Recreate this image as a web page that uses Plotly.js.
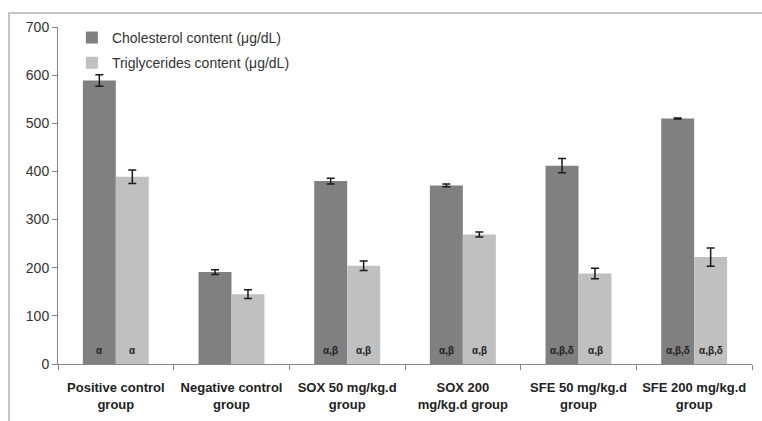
<!DOCTYPE html>
<html>
<head>
<meta charset="utf-8">
<script src="https://cdn.plot.ly/plotly-3.0.1.min.js"></script>
<style>
  html, body { margin: 0; padding: 0; background: #fff; }
  #chart { width: 762px; height: 421px; position: absolute; left: 0; top: 0; }
  #frame { position: absolute; left: 8px; top: 12px; width: 760px; height: 420px;
           border-left: 2px solid #c4c4c4; border-top: 2px solid #c4c4c4; pointer-events: none; }
</style>
</head>
<body>
<div id="chart"></div>
<div id="frame"></div>
<script>
const categories = [
  "Positive control<br>group",
  "Negative control<br>group",
  "SOX 50 mg/kg.d<br>group",
  "SOX 200<br>mg/kg.d group",
  "SFE 50 mg/kg.d<br>group",
  "SFE 200 mg/kg.d<br>group"
];
const cholesterol = [589, 191, 380, 371, 412, 510];
const cholesterolErr = [12, 5, 6, 3, 15, 1];
const triglycerides = [389, 145, 204, 269, 188, 222];
const triglyceridesErr = [14, 9, 10, 5, 11, 19];
const cholesterolLabels = ["α", "", "α,β", "α,β", "α,β,δ", "α,β,δ"];
const triglyceridesLabels = ["α", "", "α,β", "α,β", "α,β", "α,β,δ"];
const yTicks = [0, 100, 200, 300, 400, 500, 600, 700];

const FONT = "Liberation Sans, Arial, sans-serif";

const traces = [
  {
    type: "bar", name: "Cholesterol content (μg/dL)", x: categories, y: cholesterol,
    marker: { color: "#808080" }, legendgroup: "a",
    error_y: { type: "data", array: cholesterolErr, visible: true, color: "#1a1a1a", thickness: 1.5, width: 4 }
  },
  {
    type: "bar", name: "Triglycerides content (μg/dL)", x: categories, y: triglycerides,
    marker: { color: "#c0c0c0" }, legendgroup: "b",
    error_y: { type: "data", array: triglyceridesErr, visible: true, color: "#1a1a1a", thickness: 1.5, width: 4 }
  }
];

const annotations = [];
function addLabels(labels, shift) {
  labels.forEach((t, i) => {
    if (!t) return;
    annotations.push({
      x: categories[i], y: 0, xref: "x", yref: "y", text: "<b>" + t + "</b>",
      showarrow: false, xshift: shift, yshift: 14,
      font: { family: FONT, size: 10, color: "#222" }
    });
  });
}
addLabels(cholesterolLabels, -16.5);
addLabels(triglyceridesLabels, 16.5);

const layout = {
  width: 762, height: 421,
  margin: { l: 58, r: 10, t: 27, b: 57 },
  paper_bgcolor: "#fff", plot_bgcolor: "#fff",
  barmode: "group", bargap: 0.43, bargroupgap: 0,
  font: { family: FONT, color: "#333" },
  showlegend: true,
  legend: {
    x: 0.02, y: 1.015, xanchor: "left", yanchor: "top",
    font: { family: FONT, size: 14, color: "#333" },
    bgcolor: "rgba(0,0,0,0)", traceorder: "grouped", tracegroupgap: 4
  },
  xaxis: {
    type: "category", showline: true, linecolor: "#868686", linewidth: 1,
    ticks: "outside", tickson: "boundaries", ticklen: 5, tickcolor: "#868686",
    tickfont: { family: FONT, size: 13, color: "#222", weight: "bold" },
    tickangle: 0, ticklabelstandoff: 11,
    showgrid: false, zeroline: false, fixedrange: true
  },
  yaxis: {
    range: [0, 700], tickvals: yTicks, ticktext: yTicks.map(String),
    showline: true, linecolor: "#868686", linewidth: 1,
    ticks: "outside", ticklen: 5, tickcolor: "#868686",
    tickfont: { family: FONT, size: 14, color: "#333" },
    showgrid: false, zeroline: false, fixedrange: true
  },
  annotations: annotations
};

Plotly.newPlot("chart", traces, layout, { displayModeBar: false, staticPlot: true });
</script>
</body>
</html>
